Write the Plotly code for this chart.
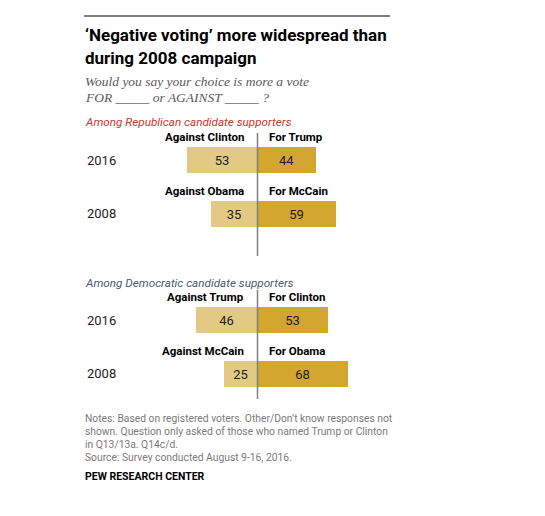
import plotly.graph_objects as go

W, H = 545, 516
def fx(px): return px / W
def fy(py): return 1 - py / H

years = ["2016", "2008"]

rep_against_labels = ["Against Clinton", "Against Obama"]
rep_for_labels = ["For Trump", "For McCain"]
rep_against = [53, 35]
rep_for = [44, 59]

dem_against_labels = ["Against Trump", "Against McCain"]
dem_for_labels = ["For Clinton", "For Obama"]
dem_against = [46, 25]
dem_for = [53, 68]

LIGHT = "#E2CA84"
DARK = "#D2A62F"
SANS = "Roboto, Liberation Sans, Arial, sans-serif"
SERIF = "Georgia, Liberation Serif, serif"

fig = go.Figure()

groups = [
    ("x", "y", rep_against, rep_for, rep_against_labels, rep_for_labels),
    ("x2", "y2", dem_against, dem_for, dem_against_labels, dem_for_labels),
]

annotations = []
for xa, ya, ag, fo, agl, fol in groups:
    fig.add_trace(go.Bar(
        y=years, x=[-v for v in ag], orientation="h", xaxis=xa, yaxis=ya,
        marker=dict(color=LIGHT, line=dict(width=0)), width=0.486,
        text=[str(v) for v in ag], textposition="inside", insidetextanchor="middle",
        textfont=dict(family=SANS, size=13, color="#222222"), textangle=0,
        hoverinfo="skip", showlegend=False,
    ))
    fig.add_trace(go.Bar(
        y=years, x=fo, orientation="h", xaxis=xa, yaxis=ya,
        marker=dict(color=DARK, line=dict(width=0)), width=0.486,
        text=[str(v) for v in fo], textposition="inside", insidetextanchor="middle",
        textfont=dict(family=SANS, size=13, color="#222222"), textangle=0,
        hoverinfo="skip", showlegend=False,
    ))
    for i, yr in enumerate(years):
        annotations.append(dict(xref=xa, yref=ya, x=0, y=i, yshift=23, xshift=-12,
                                xanchor="right", yanchor="middle", showarrow=False,
                                text="<b>%s</b>" % agl[i],
                                font=dict(family=SANS, size=11.5, color="#000000")))
        annotations.append(dict(xref=xa, yref=ya, x=0, y=i, yshift=23, xshift=9,
                                xanchor="left", yanchor="middle", showarrow=False,
                                text="<b>%s</b>" % fol[i],
                                font=dict(family=SANS, size=11.5, color="#000000")))
        annotations.append(dict(xref="paper", yref=ya, x=fx(85), y=i,
                                xanchor="left", yanchor="middle", showarrow=False,
                                text=yr, font=dict(family=SANS, size=13, color="#222222")))

scale = 1.33
center = 257.5
xrange = [-80, 100]
xdom = [fx(center + xrange[0] * scale), fx(center + xrange[1] * scale)]
step = 53.5

def yrange(top_px, bot_px, first_center):
    return [(bot_px - first_center) / step, -(first_center - top_px) / step]

axis_common = dict(showgrid=False, zeroline=False, showline=False, showticklabels=False,
                   ticks="", fixedrange=True)

fig.update_layout(
    width=W, height=H, margin=dict(l=0, r=0, t=0, b=0),
    paper_bgcolor="white", plot_bgcolor="white",
    barmode="relative", bargap=0,
    xaxis=dict(domain=xdom, range=xrange, anchor="y", **axis_common),
    yaxis=dict(domain=[fy(256), fy(133)], range=yrange(133, 256, 160), type="category",
               anchor="x", **axis_common),
    xaxis2=dict(domain=xdom, range=xrange, anchor="y2", **axis_common),
    yaxis2=dict(domain=[fy(399), fy(290)], range=yrange(290, 399, 320), type="category",
                anchor="x2", **axis_common),
    shapes=[
        dict(type="line", xref="x", yref="y domain", x0=0, x1=0, y0=0, y1=1,
             line=dict(color="#808080", width=1.5)),
        dict(type="line", xref="x2", yref="y2 domain", x0=0, x1=0, y0=0, y1=1,
             line=dict(color="#808080", width=1.5)),
        dict(type="line", xref="paper", yref="paper", x0=fx(84), x1=fx(390),
             y0=fy(16), y1=fy(16), line=dict(color="#000000", width=1.2)),
    ],
)

texts = [
    (35, "<b>‘Negative voting’ more widespread than</b>", SANS, 17, "#000000"),
    (58, "<b>during 2008 campaign</b>", SANS, 17, "#000000"),
    (81, "<i>Would you say your choice is more a vote</i>", SERIF, 13.5, "#5A5A5A"),
    (97, "<i>FOR _____ or AGAINST _____ ?</i>", SERIF, 13.5, "#5A5A5A"),
    (122, "<i>Among Republican candidate supporters</i>", SANS, 11.7, "#C8382C"),
    (283, "<i>Among Democratic candidate supporters</i>", SANS, 11.7, "#4A5A70"),
    (418, "Notes: Based on registered voters. Other/Don’t know responses not", SANS, 10.3, "#7A7A7A"),
    (431, "shown. Question only asked of those who named Trump or Clinton", SANS, 10.3, "#7A7A7A"),
    (444, "in Q13/13a. Q14c/d.", SANS, 10.3, "#7A7A7A"),
    (457, "Source: Survey conducted August 9-16, 2016.", SANS, 10.3, "#7A7A7A"),
    (476, "<b>PEW RESEARCH CENTER</b>", SANS, 10.5, "#000000"),
]
for py, t, fam, sz, col in texts:
    annotations.append(dict(xref="paper", yref="paper", x=fx(83), y=fy(py),
                            xanchor="left", yanchor="middle", showarrow=False,
                            text=t, font=dict(family=fam, size=sz, color=col)))

fig.update_layout(annotations=annotations)
fig.write_html("out.html", config={"displayModeBar": False},
               post_script="document.body.style.margin='0px';")
